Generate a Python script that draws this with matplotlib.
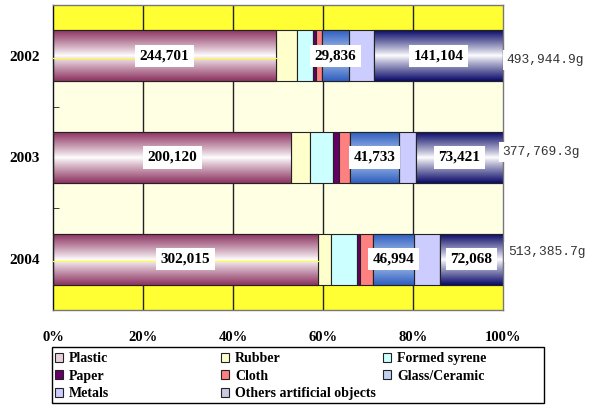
import numpy as np
import matplotlib
matplotlib.use('Agg')
import matplotlib.pyplot as plt
from matplotlib.colors import LinearSegmentedColormap
from matplotlib.patches import Patch, Rectangle

years = ['2002', '2003', '2004']
totals = ['493,944.9g', '377,769.3g', '513,385.7g']
categories = ['Plastic', 'Rubber', 'Formed syrene', 'Paper', 'Cloth',
              'Glass/Ceramic', 'Metals', 'Others artificial objects']
plastic = [244701, 200120, 302015]
rubber = [23050, 15950, 15630]
formed = [17900, 18740, 29320]
paper = [3300, 5040, 3800]
cloth = [6260, 9230, 14450]
glass = [29836, 41733, 46994]
metals = [27800, 13535, 29110]
others = [141104, 73421, 72068]
labelled = ['Plastic', 'Glass/Ceramic', 'Others artificial objects']

series = [plastic, rubber, formed, paper, cloth, glass, metals, others]
colors = ['#B06088', '#FFFFCC', '#CCFFFF', '#660066', '#FF8080',
          '#4A78D0', '#CCCCFF', '#1A1A78']
legend_colors = ['#EAD0DE', '#FFFFCC', '#CCFFFF', '#660066', '#FF8080',
                 '#C0D2F0', '#CCCCFF', '#C8C8E0']
# vertical gradients (edge colour -> centre colour)
gradients = {
    'Plastic': ['#8E3462', '#FFFFFF'],
    'Glass/Ceramic': ['#2F5FC0', '#C8DAF4'],
    'Others artificial objects': ['#0C0C6A', '#FFFFFF'],
}

serif = 'Liberation Serif'
mono = 'Liberation Mono'

fig = plt.figure(figsize=(5.93, 4.05), dpi=100)
ax = fig.add_axes([53/593, 1-310/405, 450/593, 305/405])
ax.set_facecolor('#FFFFE4')

data = np.array(series, dtype=float)
pct = data / data.sum(axis=0)
y = np.arange(len(years))
h = 0.5

# background bands
ax.axhspan(-0.5, -h/2, color='#FFFF33', zorder=0)
ax.axhspan(2 + h/2, 2.5, color='#FFFF33', zorder=0)
for x in [0.2, 0.4, 0.6, 0.8]:
    ax.axvline(x, color='#222222', lw=1.0, zorder=1)

left = np.zeros(len(years))
for name, vals, c in zip(categories, pct, colors):
    bars = ax.barh(y, vals, left=left, height=h, color=c,
                   edgecolor='#222222', lw=0.8, zorder=2)
    if name in gradients:
        cmap = LinearSegmentedColormap.from_list(name, gradients[name])
        t = np.linspace(0, 1, 100)
        prof = 1 - np.abs(2*t - 1) ** 0.9
        img = prof[:, None] * np.ones((1, 2))
        for b in bars:
            x0, y0 = b.get_x(), b.get_y()
            im = ax.imshow(img, cmap=cmap, aspect='auto', interpolation='bilinear',
                           extent=(x0, x0 + b.get_width(), y0 + b.get_height(), y0),
                           zorder=2.5, vmin=0, vmax=1)
            im.set_clip_path(b)
            ax.add_patch(Rectangle((x0, y0), b.get_width(), b.get_height(),
                                   fill=False, ec='#222222', lw=0.8, zorder=2.6))
    if name in labelled:
        idx = categories.index(name)
        for i in range(len(years)):
            ax.text(left[i] + vals[i]/2, y[i], f'{series[idx][i]:,}',
                    ha='center', va='center', fontsize=11, fontweight='bold',
                    family=serif, zorder=4,
                    bbox=dict(boxstyle='square,pad=0.3', fc='white', ec='none'))
    left += vals

# thin yellow line through the plastic bar (2002, 2004)
for i in [0, 2]:
    ax.plot([0, pct[0][i]], [y[i] + 0.02, y[i] + 0.02], color='#FFFF40',
            lw=0.9, zorder=3)

xoff = [1.008, 0.999, 1.011]
yoff = [0.04, -0.05, -0.07]
for i, t in enumerate(totals):
    ax.text(xoff[i], y[i] + yoff[i], t, ha='left', va='center',
            fontsize=9.4, family=mono, color='#333333', zorder=5, clip_on=False,
            bbox=dict(boxstyle='square,pad=0.3', fc='white', ec='none'))

ax.set_xlim(0, 1)
ax.set_ylim(2.5, -0.5)
ax.set_xticks([0, 0.2, 0.4, 0.6, 0.8, 1.0])
ax.set_xticklabels(['0%', '20%', '40%', '60%', '80%', '100%'],
                   fontsize=10.5, fontweight='bold', family=serif)
ax.set_yticks(y)
ax.set_yticklabels(years, fontsize=11, fontweight='bold', family=serif)
ax.set_yticks([0.5, 1.5], minor=True)
ax.tick_params(axis='x', length=0, pad=15)
ax.tick_params(axis='y', which='major', length=0, pad=9.4)
ax.tick_params(axis='y', which='minor', length=4, direction='in', color='#222222')
for s in ax.spines.values():
    s.set_color('#777777')
    s.set_linewidth(1.0)
ax.spines['left'].set_color('#111111')

# legend: frame + three columns placed like the original
fig.patches.append(Rectangle((52/593, 1-403/405), 492/593, 56/405,
                             transform=fig.transFigure, fill=False,
                             ec='black', lw=1.0))
columns = [[0, 3, 6], [1, 4, 7], [2, 5]]
col_x = [55, 221, 383]
for cx, col in zip(col_x, columns):
    handles = [Patch(facecolor=legend_colors[k], edgecolor='#222222', lw=0.8) for k in col]
    labels = [categories[k] for k in col]
    leg = fig.legend(handles, labels, loc='upper left',
                     bbox_to_anchor=(cx/593, 1-352/405),
                     prop={'family': serif, 'weight': 'bold', 'size': 10},
                     frameon=False, handlelength=0.55, handleheight=0.6,
                     handletextpad=0.45, labelspacing=0.33, borderpad=0,
                     borderaxespad=0)

fig.savefig('out.png', dpi=100)
